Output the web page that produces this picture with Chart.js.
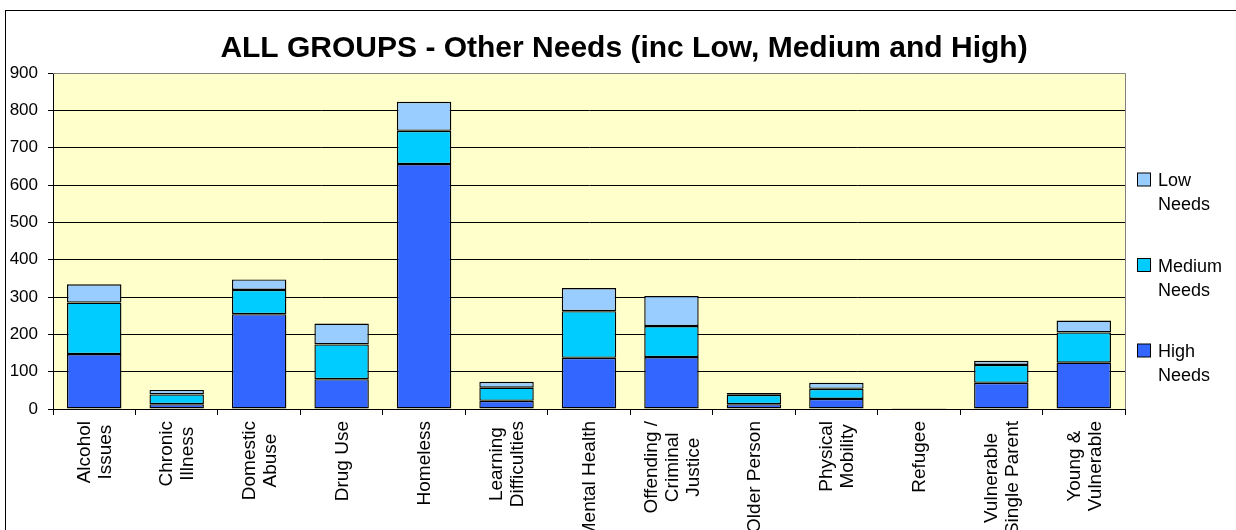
<!DOCTYPE html>
<html lang="en">
<head>
    <meta charset="UTF-8">
    <title>ALL GROUPS - Other Needs</title>
    <script src="https://cdn.jsdelivr.net/npm/chart.js"></script>
    <style>
        html, body {
            margin: 0;
            padding: 0;
            background: #ffffff;
        }
        .chart-container {
            position: relative;
            width: 1236px;
            height: 530px;
        }
    </style>
</head>
<body>
    <div class="chart-container">
        <canvas id="needsChart"></canvas>
    </div>

    <script>
        // Client groups (multi-line labels)
        const groups = [
            ['Alcohol', 'Issues'],
            ['Chronic', 'Illness'],
            ['Domestic', 'Abuse'],
            ['Drug Use'],
            ['Homeless'],
            ['Learning', 'Difficulties'],
            ['Mental Health'],
            ['Offending /', 'Criminal', 'Justice'],
            ['Older Person'],
            ['Physical', 'Mobility'],
            ['Refugee'],
            ['Vulnerable', 'Single Parent'],
            ['Young &', 'Vulnerable']
        ];

        // Counts per need level
        const highNeeds   = [147, 13, 254, 80, 656, 22, 137, 139, 13, 27, 2, 70, 124];
        const mediumNeeds = [138, 26, 65, 93, 89, 35, 125, 83, 25, 27, 1, 48, 81];
        const lowNeeds    = [49, 12, 28, 56, 78, 16, 62, 81, 5, 16, 0, 11, 32];

        const yTicks = [0, 100, 200, 300, 400, 500, 600, 700, 800, 900];

        const FONT = 'Arial, "Liberation Sans", sans-serif';

        // Frame, plot background, category labels, title and legend
        const decorations = {
            id: 'decorations',
            beforeDraw(chart) {
                const ctx = chart.ctx;
                const a = chart.chartArea;
                ctx.save();
                ctx.fillStyle = '#ffffff';
                ctx.fillRect(0, 0, chart.width, chart.height);
                ctx.strokeStyle = '#000000';
                ctx.lineWidth = 1;
                ctx.strokeRect(5.5, 10.5, chart.width + 20, chart.height + 20);
                ctx.fillStyle = '#ffffcc';
                ctx.fillRect(a.left, a.top, a.right - a.left, a.bottom - a.top);
                ctx.restore();
            },
            afterDraw(chart) {
                const ctx = chart.ctx;
                const a = chart.chartArea;
                const xScale = chart.scales.x;
                ctx.save();

                // plot border (top and right)
                ctx.strokeStyle = '#808080';
                ctx.lineWidth = 1;
                ctx.beginPath();
                ctx.moveTo(a.left, a.top + 0.5);
                ctx.lineTo(a.right + 0.5, a.top + 0.5);
                ctx.lineTo(a.right + 0.5, a.bottom);
                ctx.stroke();

                // vertical category labels, lines centred on each other
                ctx.fillStyle = '#000000';
                ctx.font = '19px ' + FONT;
                ctx.textAlign = 'center';
                ctx.textBaseline = 'middle';
                const lineGap = 21;
                chart.data.labels.forEach((lines, i) => {
                    const cx = xScale.getPixelForTick(i);
                    const longest = Math.max(...lines.map(l => ctx.measureText(l).width));
                    const cy = a.bottom + 12 + longest / 2;
                    ctx.save();
                    ctx.translate(cx, cy);
                    ctx.rotate(-Math.PI / 2);
                    lines.forEach((line, j) => {
                        const off = (j - (lines.length - 1) / 2) * lineGap;
                        ctx.fillText(line, 0, off + 1);
                    });
                    ctx.restore();
                });

                // title
                ctx.font = 'bold 30px ' + FONT;
                ctx.textAlign = 'center';
                ctx.textBaseline = 'alphabetic';
                ctx.fillText('ALL GROUPS - Other Needs (inc Low, Medium and High)', 624, 57);

                // legend, top entry is the last dataset
                ctx.font = '18px ' + FONT;
                ctx.textAlign = 'left';
                const sets = chart.data.datasets.slice().reverse();
                sets.forEach((ds, i) => {
                    const base = 186 + i * 85.5;
                    ctx.fillStyle = ds.backgroundColor;
                    ctx.fillRect(1137.5, base - 13, 13, 13);
                    ctx.strokeStyle = '#000000';
                    ctx.strokeRect(1137.5, base - 13, 13, 13);
                    ctx.fillStyle = '#000000';
                    ds.label.split(' ').forEach((line, j) => {
                        ctx.fillText(line, 1158, base + j * 24);
                    });
                });
                ctx.restore();
            }
        };

        const ctx = document.getElementById('needsChart').getContext('2d');
        const needsChart = new Chart(ctx, {
            type: 'bar',
            data: {
                labels: groups,
                datasets: [
                    {
                        label: 'High Needs',
                        data: highNeeds,
                        backgroundColor: '#3366ff'
                    },
                    {
                        label: 'Medium Needs',
                        data: mediumNeeds,
                        backgroundColor: '#00ccff'
                    },
                    {
                        label: 'Low Needs',
                        data: lowNeeds,
                        backgroundColor: '#99ccff'
                    }
                ].map(ds => Object.assign(ds, {
                    borderColor: '#000000',
                    borderWidth: 1.4,
                    borderSkipped: false,
                    barPercentage: 0.66,
                    categoryPercentage: 1
                }))
            },
            options: {
                responsive: true,
                maintainAspectRatio: false,
                animation: false,
                layout: {
                    padding: { top: 73, right: 111, bottom: 0, left: 0 }
                },
                plugins: {
                    legend: { display: false },
                    title: { display: false },
                    tooltip: { enabled: false }
                },
                scales: {
                    x: {
                        stacked: true,
                        border: { color: '#000000', width: 1 },
                        grid: {
                            offset: true,
                            drawOnChartArea: false,
                            drawTicks: true,
                            tickLength: 6,
                            tickColor: '#000000'
                        },
                        ticks: { display: false },
                        afterFit(scale) {
                            scale.height = 121;
                        }
                    },
                    y: {
                        stacked: true,
                        min: 0,
                        max: 900,
                        border: { color: '#000000', width: 1 },
                        grid: {
                            color: '#000000',
                            lineWidth: 1,
                            drawTicks: true,
                            tickLength: 5,
                            tickColor: '#000000'
                        },
                        afterBuildTicks(scale) {
                            scale.ticks = yTicks.map(v => ({ value: v }));
                        },
                        ticks: {
                            padding: 10,
                            color: '#000000',
                            font: { family: FONT, size: 17 }
                        },
                        afterFit(scale) {
                            scale.width = 53;
                        }
                    }
                }
            },
            plugins: [decorations]
        });
    </script>
</body>
</html>
